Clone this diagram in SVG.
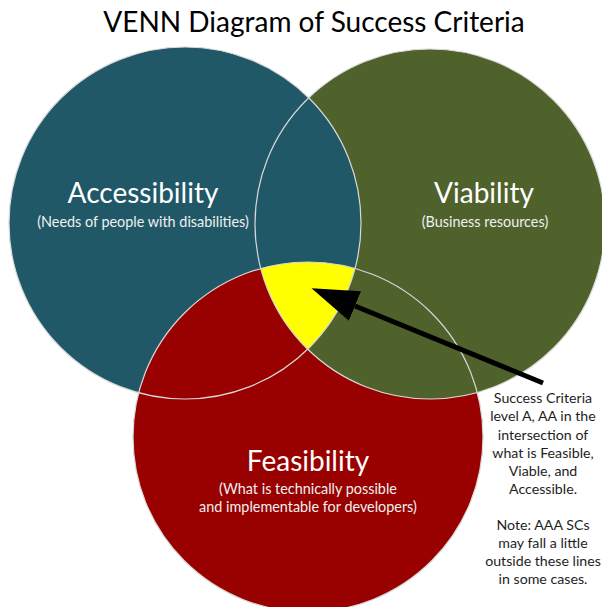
<svg xmlns="http://www.w3.org/2000/svg" width="602" height="607" viewBox="0 0 602 607">
  <style>
    .title { font-family: Lato, "Liberation Sans", sans-serif; font-size: 28px; fill: #000; text-anchor: middle; }
    .head { font-family: Lato, "Liberation Sans", sans-serif; font-size: 28px; fill: #ffffff; text-anchor: middle; }
    .sub { font-family: Lato, "Liberation Sans", sans-serif; font-size: 14.4px; fill: #f0f0f0; text-anchor: middle; }
    .note { font-family: Lato, "Liberation Sans", sans-serif; font-size: 14.2px; fill: #1e1e1e; text-anchor: middle; }
    .rim { fill: none; stroke: #d8d8d8; stroke-width: 1.2; }
    .arrow { fill: none; stroke: #000; stroke-width: 5; marker-end: url(#head); }
  </style>
  <defs>
    <circle id="cL" cx="185" cy="223" r="176"/>
    <circle id="cR" cx="430" cy="224" r="175"/>
    <circle id="cB" cx="308" cy="437" r="175"/>
    <clipPath id="clipB"><use href="#cB"/></clipPath>
    <clipPath id="clipR"><use href="#cR"/></clipPath>
    <marker id="head" viewBox="0 0 47 32" refX="0" refY="16" markerWidth="47" markerHeight="32" markerUnits="userSpaceOnUse" orient="auto">
      <path d="M0,0 L47,16 L0,32 Z" fill="#000"/>
    </marker>
  </defs>

  <rect width="602" height="607" fill="#ffffff"/>

  <text class="title" x="314" y="32">VENN Diagram of Success Criteria</text>

  <!-- circle fills: viability, accessibility, feasibility -->
  <g id="viability">
    <use href="#cR" fill="#4f622b"/>
  </g>
  <g id="accessibility">
    <use href="#cL" fill="#215867"/>
  </g>
  <g id="feasibility">
    <use href="#cB" fill="#990000"/>
  </g>
  <!-- viability stays olive where it overlaps feasibility -->
  <g id="viability-feasibility" clip-path="url(#clipB)">
    <use href="#cR" fill="#4f622b"/>
  </g>
  <!-- centre where all three meet -->
  <g id="intersection" clip-path="url(#clipB)">
    <g clip-path="url(#clipR)">
      <use href="#cL" fill="#ffff00"/>
    </g>
  </g>

  <!-- circle outlines on top -->
  <g id="outlines">
    <use href="#cR" class="rim"/>
    <use href="#cL" class="rim"/>
    <use href="#cB" class="rim"/>
  </g>

  <g id="labels">
    <text class="head" x="143" y="203">Accessibility</text>
    <text class="sub" x="143" y="227">(Needs of people with disabilities)</text>
    <text class="head" x="484" y="203">Viability</text>
    <text class="sub" x="485" y="227">(Business resources)</text>
    <text class="head" x="308" y="471">Feasibility</text>
    <text class="sub" x="308" y="494">(What is technically possible</text>
    <text class="sub" x="308" y="512">and implementable for developers)</text>
  </g>

  <g id="connectors">
    <line class="arrow" x1="543" y1="383" x2="355" y2="306"/>
  </g>

  <g id="note">
    <text class="note" x="543" y="403">Success Criteria</text>
    <text class="note" x="543" y="421">level A, AA in the</text>
    <text class="note" x="543" y="439.5">intersection of</text>
    <text class="note" x="543" y="457.5">what is Feasible,</text>
    <text class="note" x="543" y="476">Viable, and</text>
    <text class="note" x="543" y="494">Accessible.</text>
    <text class="note" x="543" y="530">Note: AAA SCs</text>
    <text class="note" x="543" y="548">may fall a little</text>
    <text class="note" x="543" y="566">outside these lines</text>
    <text class="note" x="543" y="584">in some cases.</text>
  </g>
</svg>
